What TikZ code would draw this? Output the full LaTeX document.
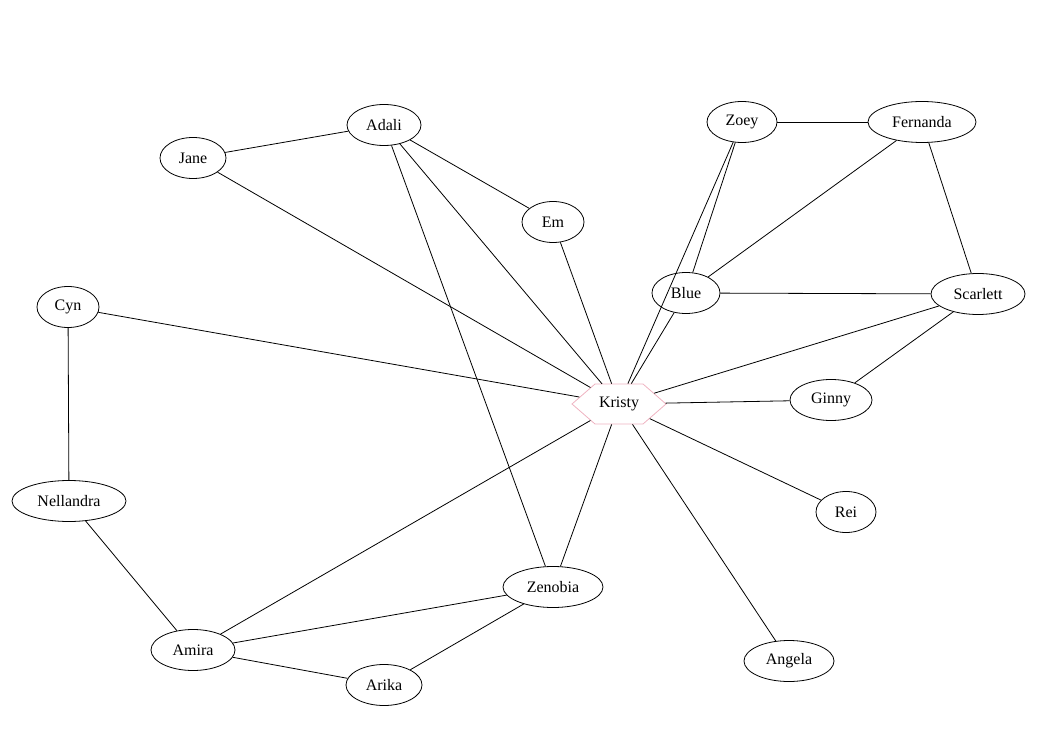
\documentclass[tikz,border=0pt]{standalone}
\usepackage{fontspec}
\setmainfont{Liberation Serif}
\usetikzlibrary{shapes.symbols,shapes.geometric}
\definecolor{hexpink}{RGB}{238,178,192}
\begin{document}
\begin{tikzpicture}[x=1pt,y=-1pt,
  person/.style={draw,ellipse,minimum width=#1,minimum height=41pt,inner sep=0pt,font=\fontsize{16}{18}\selectfont,line width=0.8pt},
  person/.default=70pt,
  hub/.style={draw=hexpink,shape=signal,signal to=west and east,signal pointer angle=82,minimum width=94pt,minimum height=40pt,inner sep=0pt,font=\fontsize{16}{18}\selectfont,line width=0.8pt},
  link/.style={line width=0.8pt}]
\useasboundingbox (0,0) rectangle (1044,735);
\node[person=74pt] (adali) at (384,125) {Adali};
\node[person=66pt] (jane) at (193,158) {Jane};
\node[person=62pt] (em) at (553,222) {Em};
\node[person=70pt] (zoey) at (742,122) {Zoey};
\node[person=108pt] (fernanda) at (922,122) {Fernanda};
\node[person=68pt] (blue) at (686,293) {Blue};
\node[person=94pt] (scarlett) at (978,294) {Scarlett};
\node[person=62pt] (cyn) at (68,307) {Cyn};
\node[hub] (kristy) at (619,404) {Kristy};
\node[person=82pt] (ginny) at (831,400) {Ginny};
\node[person=114pt] (nellandra) at (69,501) {Nellandra};
\node[person=60pt] (rei) at (846,512) {Rei};
\node[person=100pt] (zenobia) at (553,587) {Zenobia};
\node[person=84pt] (amira) at (193,650) {Amira};
\node[person=90pt] (angela) at (789,661) {Angela};
\node[person=76pt] (arika) at (384,685) {Arika};
\draw[link] (jane) -- (adali);
\draw[link] (jane) -- (kristy);
\draw[link] (adali) -- (em);
\draw[link] (adali) -- (kristy);
\draw[link] (adali) -- (zenobia);
\draw[link] (em) -- (kristy);
\draw[link] (zoey) -- (fernanda);
\draw[link] (zoey) -- (blue);
\draw[link] (zoey) -- (kristy);
\draw[link] (fernanda) -- (blue);
\draw[link] (fernanda) -- (scarlett);
\draw[link] (blue) -- (scarlett);
\draw[link] (blue) -- (kristy);
\draw[link] (scarlett) -- (kristy);
\draw[link] (scarlett) -- (ginny);
\draw[link] (ginny) -- (kristy);
\draw[link] (rei) -- (kristy);
\draw[link] (angela) -- (kristy);
\draw[link] (cyn) -- (kristy);
\draw[link] (cyn) -- (nellandra);
\draw[link] (nellandra) -- (amira);
\draw[link] (amira) -- (kristy);
\draw[link] (amira) -- (zenobia);
\draw[link] (amira) -- (arika);
\draw[link] (arika) -- (zenobia);
\draw[link] (zenobia) -- (kristy);
\end{tikzpicture}
\end{document}
